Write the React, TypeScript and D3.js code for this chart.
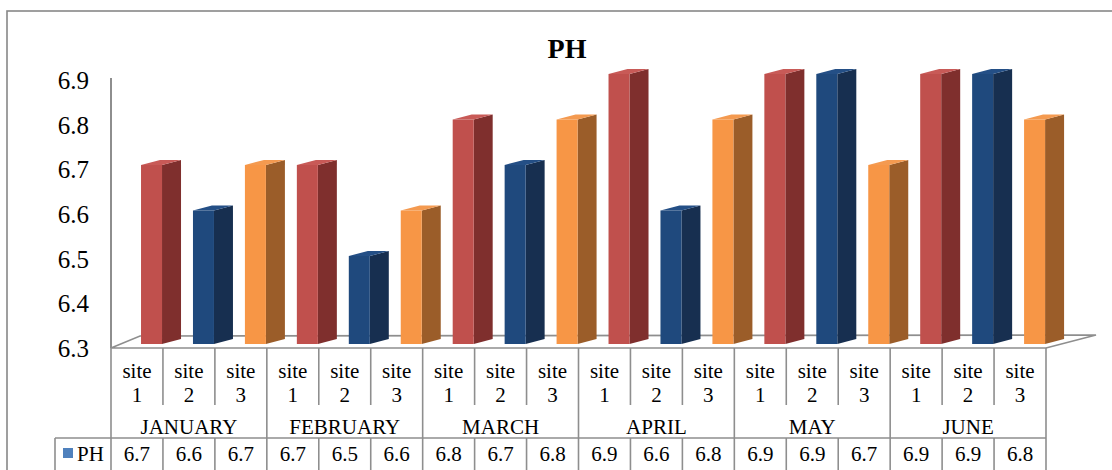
import React from "react";
import * as d3 from "d3";

// Chart data
const months = ["JANUARY", "FEBRUARY", "MARCH", "APRIL", "MAY", "JUNE"];
const sites = ["1", "2", "3"];
const phValues = [6.7, 6.6, 6.7, 6.7, 6.5, 6.6, 6.8, 6.7, 6.8, 6.9, 6.6, 6.8, 6.9, 6.9, 6.7, 6.9, 6.9, 6.8];
const yTicks = [6.3, 6.4, 6.5, 6.6, 6.7, 6.8, 6.9];
const seriesName = "PH";

const siteColors = [
  { front: "#C0504D", side: "#7F2F2D", top: "#C85A57" },
  { front: "#1F497D", side: "#172F50", top: "#244F86" },
  { front: "#F79646", side: "#9B5D29", top: "#F49A50" },
];

const W = 1112;
const H = 470;
const plotLeft = 111;
const plotRight = 1046;
const floorY = 348;
const FONT = '"Liberation Serif", "DejaVu Serif", serif';
const GRID = "#8E8E8E";

export default function App() {
  const slots = d3.range(phValues.length);
  const x = d3.scaleBand<number>().domain(slots).range([plotLeft, plotRight]);
  const xMonth = d3.scaleBand<string>().domain(months).range([plotLeft, plotRight]);
  const bw = x.bandwidth();

  // bar top (front face) and axis label positions
  const yBar = d3.scaleLinear().domain([6.3, 6.9]).range([347, 74]);
  const yLabel = d3.scaleLinear().domain([6.3, 6.9]).range([348, 80]);

  const frontW = 21;
  const sideW = 19;
  const depthDy = 5;
  const barBottom = 344;

  const T = (props: any) => <text fontFamily={FONT} style={{ fontFamily: FONT }} {...props} />;

  return (
    <svg
      width={W}
      height={H}
      style={{ position: "absolute", left: 0, top: 0, background: "#fff" }}
    >
      <rect x={0} y={0} width={W} height={H} fill="#fff" />
      {/* outer frame */}
      <rect x={7} y={11} width={W + 20} height={H + 20} fill="none" stroke="#888" strokeWidth={1.6} />

      <T x={567} y={58} textAnchor="middle" fontSize={28} fontWeight="bold" fill="#000">
        {seriesName}
      </T>

      {/* value axis */}
      <line x1={plotLeft} x2={plotLeft} y1={78} y2={floorY} stroke={GRID} strokeWidth={2} />
      {yTicks.map((t) => (
        <T key={t} x={89} y={yLabel(t) + 9} textAnchor="end" fontSize={25} fill="#000">
          {t.toFixed(1)}
        </T>
      ))}

      {/* floor */}
      <polygon
        points={`${plotLeft},${floorY} ${plotLeft + 29},336 1096,335 ${plotRight},${floorY}`}
        fill="#fff"
        stroke={GRID}
        strokeWidth={1.6}
      />

      {/* bars */}
      {phValues.map((v, i) => {
        const c = siteColors[i % 3];
        const x0 = (x(i) as number) + bw * 0.578;
        const x1 = x0 + frontW;
        const x2 = x1 + sideW;
        const top = yBar(v);
        return (
          <g key={i}>
            <polygon
              points={`${x1},${top} ${x2},${top - depthDy} ${x2},${barBottom - depthDy} ${x1},${barBottom}`}
              fill={c.side}
            />
            <polygon
              points={`${x0},${top} ${x1},${top} ${x2},${top - depthDy} ${x0 + sideW},${top - depthDy}`}
              fill={c.top}
            />
            <rect x={x0} y={top} width={frontW} height={barBottom - top} fill={c.front} />
          </g>
        );
      })}

      {/* data table */}
      <g stroke={GRID} strokeWidth={1.6} fill="none">
        <line x1={plotLeft} x2={plotLeft} y1={floorY} y2={H + 5} />
        <line x1={plotRight} x2={plotRight} y1={floorY} y2={H + 5} />
        <line x1={55} x2={plotRight} y1={438} y2={438} />
        <line x1={55} x2={55} y1={438} y2={H + 5} />
        {slots.slice(1).map((i) => (
          <line
            key={i}
            x1={x(i) as number}
            x2={x(i) as number}
            y1={floorY}
            y2={i % 3 === 0 ? H + 5 : 405}
          />
        ))}
        {slots.slice(1).filter((i) => i % 3 !== 0).map((i) => (
          <line key={"d" + i} x1={x(i) as number} x2={x(i) as number} y1={438} y2={H + 5} />
        ))}
      </g>

      {slots.map((i) => {
        const cx = (x(i) as number) + bw / 2;
        return (
          <g key={i}>
            <T x={cx} y={378} fontSize={21} textAnchor="middle">site</T>
            <T x={cx} y={402} fontSize={21} textAnchor="middle">{sites[i % 3]}</T>
            <T x={cx} y={461} fontSize={21} textAnchor="middle">{phValues[i].toFixed(1)}</T>
          </g>
        );
      })}
      {months.map((m) => (
        <T key={m} x={(xMonth(m) as number) + xMonth.bandwidth() / 2} y={434} fontSize={21} textAnchor="middle">
          {m}
        </T>
      ))}

      {/* legend key */}
      <rect x={63} y={448} width={10} height={10} fill="#4F81BD" />
      <T x={77} y={461} fontSize={21} fill="#000">
        {seriesName}
      </T>
    </svg>
  );
}
